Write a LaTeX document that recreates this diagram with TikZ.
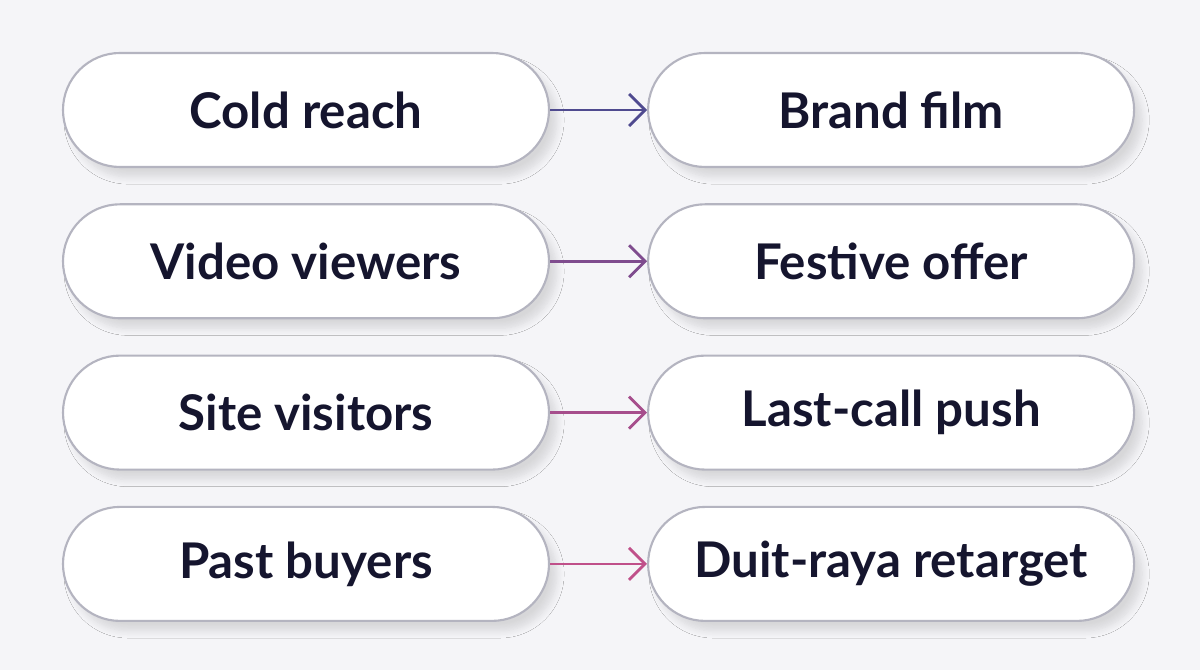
\documentclass[tikz,border=0pt]{standalone}
\usepackage{fontspec}
\setmainfont{Lato}
\usetikzlibrary{arrows.meta,positioning,shadows.blur}
\definecolor{bgcol}{HTML}{F5F5F8}
\definecolor{pillline}{HTML}{B4B4C0}
\definecolor{inkcol}{HTML}{15152E}
\definecolor{arrA}{HTML}{4F4A8F}
\definecolor{arrB}{HTML}{7F4C8E}
\definecolor{arrC}{HTML}{A64E8C}
\definecolor{arrD}{HTML}{C0508A}
\tikzset{
        pill/.style = {draw=pillline, line width=0.6pt, fill=white,
            rounded corners=0.57cm,
            minimum height=1.14cm,
            minimum width=4.86cm,
            text=inkcol, font=\fontsize{14}{16}\selectfont\bfseries,
            blur shadow={shadow xshift=0.08cm, shadow yshift=-0.1cm,
                shadow opacity=12, shadow blur steps=10}},
        link/.style = {draw, line width=0.8pt,
            -{Straight Barb[length=1.6mm,width=3.2mm]}},
    }
\begin{document}
\begin{tikzpicture}
    \fill[bgcol] (0,0) rectangle (12,6.7);
    \useasboundingbox (0,0) rectangle (12,6.7);

    \node[pill] (cold) at (3.06,5.60) {Cold reach};
    \node[pill, below=0.352cm of cold] (video) {Video viewers};
    \node[pill, below=0.352cm of video] (site) {Site visitors};
    \node[pill, below=0.352cm of site] (past) {Past buyers};

    \node[pill, right=0.97cm of cold] (brand) {Brand film};
    \node[pill, right=0.97cm of video] (festive) {Festive offer};
    \node[pill, right=0.97cm of site] (last) {Last-call push};
    \node[pill, right=0.97cm of past] (duit) {Duit-raya retarget};

    \draw[link, arrA] (cold) -- (brand);
    \draw[link, arrB] (video) -- (festive);
    \draw[link, arrC] (site) -- (last);
    \draw[link, arrD] (past) -- (duit);
\end{tikzpicture}
\end{document}
